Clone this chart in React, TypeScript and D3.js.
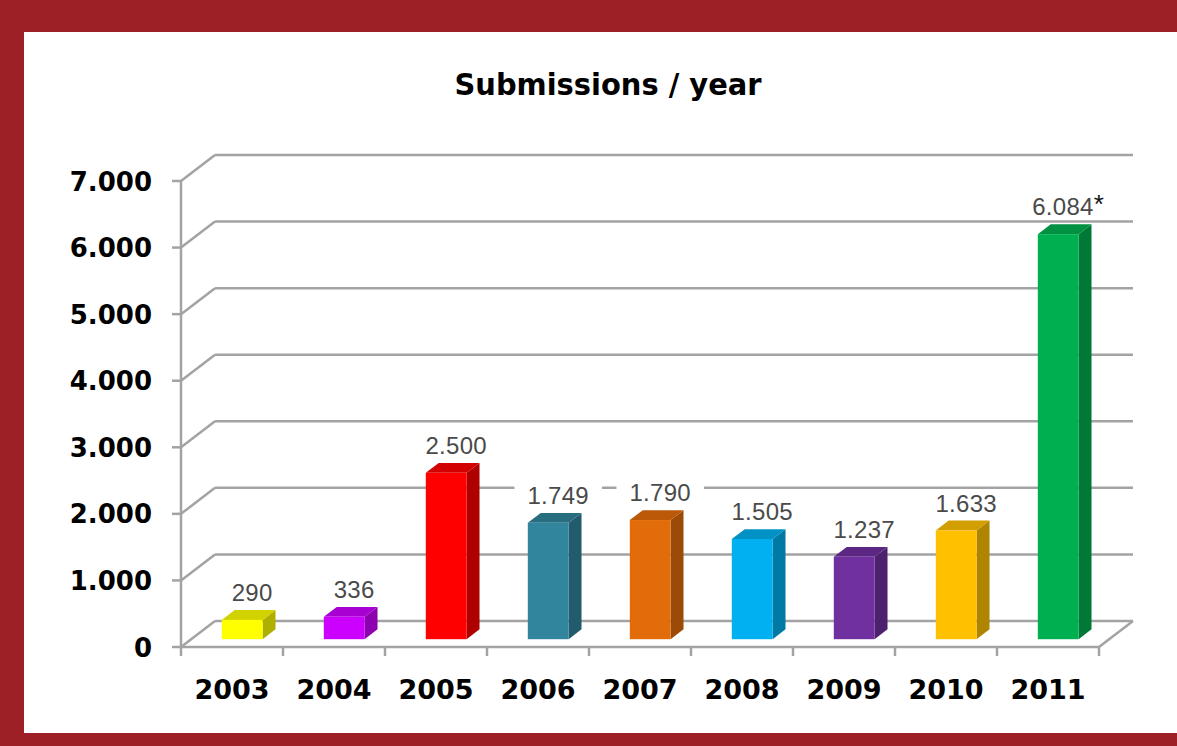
import React from "react";
import * as d3 from "d3";

const years = ["2003", "2004", "2005", "2006", "2007", "2008", "2009", "2010", "2011"];
const submissions = [290, 336, 2500, 1749, 1790, 1505, 1237, 1633, 6084];
const valueLabels = ["290", "336", "2.500", "1.749", "1.790", "1.505", "1.237", "1.633", "6.084"];
const labelSuffix = ["", "", "", "", "", "", "", "", "*"];
const barColors = ["#ffff00", "#cc00ff", "#ff0000", "#31859c", "#e36c0a", "#00b0f0", "#7030a0", "#ffc000", "#00b050"];
const yTicks = [0, 1000, 2000, 3000, 4000, 5000, 6000, 7000];
const yTickLabels = ["0", "1.000", "2.000", "3.000", "4.000", "5.000", "6.000", "7.000"];
const title = "Submissions / year";

const W = 1177;
const H = 746;
const DX = 34; // depth offset x of the back wall
const DY = -26; // depth offset y of the back wall
const Z0 = 0.3; // bar front depth
const Z1 = 0.68; // bar back depth
const GRID = "#a3a3a3";

export default function App() {
  const x = d3.scaleBand<string>().domain(years).range([181, 1099]).paddingInner(0.6).paddingOuter(0.3);
  const xCat = d3.scaleBand<string>().domain(years).range([181, 1099]);
  const y = d3.scaleLinear().domain([0, 7000]).range([647, 181]);
  const bw = x.bandwidth();
  const bdx = (Z1 - Z0) * DX;
  const bdy = (Z1 - Z0) * DY;
  const f = "'DejaVu Sans', sans-serif";

  return (
    <svg width={W} height={H} style={{ position: "absolute", left: 0, top: 0 }}>
      <rect x={0} y={0} width={W} height={H} fill="#9c2025" />
      <rect x={24} y={32} width={W - 24} height={701} fill="#ffffff" />
      <text x={608} y={95} textAnchor="middle" fontFamily={f} fontWeight="bold" fontSize={30}
        textLength={307} lengthAdjust="spacingAndGlyphs" fill="#000">{title}</text>

      {/* back wall gridlines + side wall diagonals */}
      {yTicks.map((t) => (
        <g key={"g" + t}>
          <line x1={181 + DX} x2={1099 + DX} y1={y(t) + DY} y2={y(t) + DY} stroke={GRID} strokeWidth={2.5} />
          <line x1={181} x2={181 + DX} y1={y(t)} y2={y(t) + DY} stroke={GRID} strokeWidth={2.5} />
          <line x1={172} x2={181} y1={y(t)} y2={y(t)} stroke={GRID} strokeWidth={2.5} />
        </g>
      ))}
      {/* floor */}
      <line x1={181} x2={1099} y1={y(0)} y2={y(0)} stroke={GRID} strokeWidth={2.5} />
      <line x1={1099} x2={1099 + DX} y1={y(0)} y2={y(0) + DY} stroke={GRID} strokeWidth={2.5} />
      {/* y axis */}
      <line x1={181} x2={181} y1={y(7000)} y2={y(0) + 9} stroke={GRID} strokeWidth={2.5} />
      {years.map((yr) => (
        <line key={"xt" + yr} x1={(xCat(yr) as number) + xCat.bandwidth()} x2={(xCat(yr) as number) + xCat.bandwidth()}
          y1={y(0)} y2={y(0) + 9} stroke={GRID} strokeWidth={2.5} />
      ))}

      {/* bars */}
      {years.map((yr, i) => {
        const x0 = (x(yr) as number) + Z0 * DX;
        const x1 = x0 + bw;
        const yb = y(0) + Z0 * DY;
        const yt = y(submissions[i]) + Z0 * DY;
        const c = d3.color(barColors[i])!;
        const side = c.darker(1.05).formatHex();
        const top = c.darker(0.55).formatHex();
        return (
          <g key={"b" + yr}>
            <polygon points={`${x1},${yt} ${x1 + bdx},${yt + bdy} ${x1 + bdx},${yb + bdy} ${x1},${yb}`} fill={side} />
            <polygon points={`${x0},${yt} ${x1},${yt} ${x1 + bdx},${yt + bdy} ${x0 + bdx},${yt + bdy}`} fill={top} />
            <rect x={x0} y={yt} width={bw} height={yb - yt} fill={barColors[i]} />
          </g>
        );
      })}

      {/* value labels */}
      {years.map((yr, i) => {
        const cx = (x(yr) as number) + Z0 * DX + bw / 2 + 10;
        const by = y(submissions[i]) + Z0 * DY + bdy - 9;
        const w = valueLabels[i].length * 13.5;
        return (
          <g key={"l" + yr}>
            <rect x={cx - w / 2 - 10} y={by - 20} width={w + 20} height={24} fill="#fff" />
            <text x={cx} y={by} textAnchor="middle" fontFamily="'Liberation Sans', Arial, sans-serif"
              fontSize={24} fill="#4a4a4a" letterSpacing={0.3}>
              {valueLabels[i]}
              {labelSuffix[i] ? (
                <tspan fill="#111" fontSize={26} dy={-2}>{labelSuffix[i]}</tspan>
              ) : null}
            </text>
          </g>
        );
      })}

      {/* y tick labels */}
      {yTicks.map((t, i) => (
        <text key={"yl" + t} x={152} y={y(t) + 9.5} textAnchor="end" fontFamily={f} fontWeight="bold"
          fontSize={26} fill="#000">{yTickLabels[i]}</text>
      ))}
      {/* x labels */}
      {years.map((yr) => (
        <text key={"xl" + yr} x={(xCat(yr) as number) + xCat.bandwidth() / 2} y={699} textAnchor="middle"
          fontFamily={f} fontWeight="bold" fontSize={27} fill="#000">{yr}</text>
      ))}
    </svg>
  );
}
